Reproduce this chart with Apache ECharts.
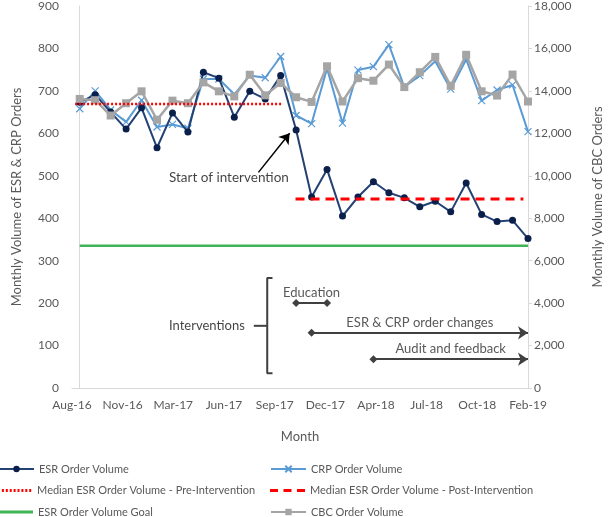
<!DOCTYPE html>
<html>
<head>
<meta charset="utf-8">
<title>ESR / CRP / CBC order volume</title>
<script src="https://cdn.jsdelivr.net/npm/echarts@6/dist/echarts.min.js"></script>
<style>
  html, body { margin: 0; padding: 0; background: #fff; }
  #main { width: 612px; height: 517px; }
</style>
</head>
<body>
<div id="main"></div>
<script type="text/javascript">
// x axis labels (evenly spaced under the plot)
var tickLabels = ['Aug-16', 'Nov-16', 'Mar-17', 'Jun-17', 'Sep-17', 'Dec-17', 'Apr-18', 'Jul-18', 'Oct-18', 'Feb-19'];

// monthly values, one per month index 0..29
var esrVolume = [673, 691, 650, 610, 660, 566, 648, 603, 744, 730, 638, 699, 681, 736, 608,
                 450, 515, 405, 450, 486, 460, 448, 427, 440, 415, 483, 409, 392, 395, 352];
var crpVolume = [658, 700, 655, 627, 678, 615, 621, 612, 728, 728, 692, 736, 731, 781, 642,
                 623, 753, 624, 749, 757, 809, 709, 736, 770, 704, 774, 677, 702, 714, 604];
var cbcVolume = [13620, 13560, 12840, 13420, 13980, 12640, 13540, 13420, 14400, 13980, 13740, 14760, 13790, 14370, 13700,
                 13480, 15160, 13500, 14600, 14480, 15240, 14180, 14880, 15600, 14240, 15700, 13980, 13780, 14770, 13500];

// reference lines: value and month-index range
var preMedian = 669,  preRange = [-0.3, 13.05];
var postMedian = 445, postRange = [13.96, 28.7];
var goalValue = 335,  goalRange = [0, 29];

// intervention timeline (month index start/end, height on left axis)
var interventions = [
  { name: 'Education', start: 14, end: 16, level: 200, arrow: false },
  { name: 'ESR & CRP order changes', start: 15, end: 29, level: 130, arrow: true },
  { name: 'Audit and feedback', start: 19, end: 29, level: 68, arrow: true }
];

// legend layout: two columns, three rows
var legendItems = [
  ['ESR Order Volume', 'Median ESR Order Volume - Pre-Intervention', 'ESR Order Volume Goal'],
  ['CRP Order Volume', 'Median ESR Order Volume - Post-Intervention', 'CBC Order Volume']
];

// plain-line legend icons (no marker)
function dashPath(dash, gap) {
  var p = '';
  for (var x = 0; x < 35; x += dash + gap) {
    var w = Math.min(dash, 35 - x);
    p += 'M' + x + ',0h' + w + 'v3h-' + w + 'z';
  }
  return 'path://' + p;
}
var lineIcons = {
  'Median ESR Order Volume - Pre-Intervention': dashPath(2, 1.9),
  'Median ESR Order Volume - Post-Intervention': dashPath(8, 5.5),
  'ESR Order Volume Goal': dashPath(35, 0)
};

var font = 'Lato';
var grey = '#595959';

function pairs(arr) {
  return arr.map(function (v, i) { return [i, v]; });
}
function flat(value, range) {
  return [[range[0], value], [range[1], value]];
}
function comma(v) {
  return String(v).replace(/\B(?=(\d{3})+(?!\d))/g, ',');
}

var chart = echarts.init(document.getElementById('main'));

var interventionLines = interventions.map(function (d) {
  return [
    { coord: [d.start, d.level], symbol: 'diamond', symbolSize: 8 },
    { coord: [d.end, d.level], symbol: d.arrow ? 'arrow' : 'diamond', symbolSize: d.arrow ? 10 : 8,
      label: { show: true, position: 'middle', formatter: d.name, color: grey, fontFamily: font, fontSize: 13, distance: 4 } }
  ];
});

var legends = [];
legendItems.forEach(function (col, c) {
  col.forEach(function (name, r) {
    var icon = lineIcons[name];
    legends.push({
      left: c === 0 ? -2 : 270, top: 463 + r * 21.5, padding: 0,
      itemWidth: 35, itemHeight: icon ? 3 : 8,
      textStyle: { color: grey, fontSize: 11, fontFamily: font, lineHeight: 12 },
      data: [icon ? { name: name, icon: icon } : name]
    });
  });
});

var option = {
  animation: false,
  textStyle: { fontFamily: font },
  grid: { left: 72, right: 84, top: 6, bottom: 129 },
  legend: legends,
  xAxis: [
    { type: 'value', min: -0.5, max: 29, show: false },
    {
      type: 'category', position: 'bottom', boundaryGap: false, data: tickLabels,
      name: 'Month', nameLocation: 'middle', nameGap: 42,
      nameTextStyle: { color: grey, fontSize: 13, fontFamily: font },
      axisLine: { lineStyle: { color: '#d9d9d9' } },
      axisTick: { show: false },
      axisLabel: { color: grey, fontSize: 12, margin: 11, interval: 0 }
    }
  ],
  yAxis: [
    {
      type: 'value', min: 0, max: 900, interval: 100,
      name: 'Monthly Volume of ESR & CRP Orders', nameLocation: 'middle', nameGap: 49,
      nameTextStyle: { color: grey, fontSize: 13, fontFamily: font },
      axisLine: { show: true, lineStyle: { color: '#d9d9d9' } },
      axisTick: { show: false },
      splitLine: { show: false },
      axisLabel: { color: grey, fontSize: 12, margin: 13 }
    },
    {
      type: 'value', min: 0, max: 18000, interval: 2000, position: 'right',
      name: 'Monthly Volume of CBC Orders', nameLocation: 'middle', nameGap: 63,
      nameTextStyle: { color: grey, fontSize: 13, fontFamily: font },
      axisLine: { show: true, lineStyle: { color: '#d9d9d9' } },
      axisTick: { show: true, length: 4, lineStyle: { color: '#d9d9d9' } },
      splitLine: { show: false },
      axisLabel: { color: grey, fontSize: 12, margin: 6, formatter: comma }
    }
  ],
  series: [
    {
      name: 'ESR Order Volume', type: 'line', data: pairs(esrVolume),
      symbol: 'circle', symbolSize: 7,
      lineStyle: { color: '#234273', width: 2 },
      itemStyle: { color: '#0b1f4b' },
      z: 3
    },
    {
      name: 'CRP Order Volume', type: 'line', data: pairs(crpVolume),
      symbol: 'path://M0,0L10,10M10,0L0,10', symbolSize: 7,
      lineStyle: { color: '#5b9bd5', width: 2 },
      itemStyle: { color: 'rgba(0,0,0,0)', borderColor: '#5b9bd5', borderWidth: 1.2 },
      z: 2
    },
    {
      name: 'CBC Order Volume', type: 'line', yAxisIndex: 1, data: pairs(cbcVolume),
      symbol: 'rect', symbolSize: 8,
      lineStyle: { color: '#a5a5a5', width: 2.5 },
      itemStyle: { color: '#a5a5a5' },
      z: 4
    },
    {
      name: 'ESR Order Volume Goal', type: 'line', data: flat(goalValue, goalRange),
      symbol: 'none', lineStyle: { color: '#3fb557', width: 2.5 }, itemStyle: { color: '#3fb557' }, z: 5
    },
    {
      name: 'Median ESR Order Volume - Pre-Intervention', type: 'line', data: flat(preMedian, preRange),
      symbol: 'none', lineStyle: { color: '#ff0000', width: 2.5, type: [2, 2] }, itemStyle: { color: '#ff0000' }, z: 6
    },
    {
      name: 'Median ESR Order Volume - Post-Intervention', type: 'line', data: flat(postMedian, postRange),
      symbol: 'none', lineStyle: { color: '#ff0000', width: 3, type: [9, 6] }, itemStyle: { color: '#ff0000' }, z: 6
    },
    {
      // annotations: intervention timeline and start-of-intervention arrow
      name: 'notes', type: 'line', data: [], silent: true, z: 7,
      markLine: {
        silent: true, animation: false,
        lineStyle: { color: '#404040', width: 2, type: 'solid' },
        label: { show: false },
        data: interventionLines.concat([
          [{ coord: [11.56, 508], symbol: 'none' },
           { coord: [13.58, 600], symbol: 'arrow', symbolSize: 10, lineStyle: { color: '#000', width: 1.5 } }]
        ])
      }
    },
    {
      name: 'bracket', type: 'line', silent: true, symbol: 'none', z: 7,
      lineStyle: { color: '#404040', width: 2 },
      data: [[12.47, 259], [12.13, 259], [12.13, 35], [12.47, 35]]
    },
    {
      name: 'bracketTick', type: 'line', silent: true, symbol: 'none', z: 7,
      lineStyle: { color: '#404040', width: 2 },
      data: [[11.26, 146.5], [12.13, 146.5]]
    },
    {
      name: 'texts', type: 'scatter', silent: true, symbolSize: 0, z: 8,
      data: [
        { value: [9.65, 496], label: { show: true, position: 'inside', formatter: 'Start of intervention', color: '#111', fontSize: 13.5, fontFamily: font } },
        { value: [11.26, 146.5], label: { show: true, position: 'left', distance: 9, formatter: 'Interventions', color: '#111', fontSize: 13, fontFamily: font } }
      ]
    }
  ]
};

chart.setOption(option);
</script>
</body>
</html>
